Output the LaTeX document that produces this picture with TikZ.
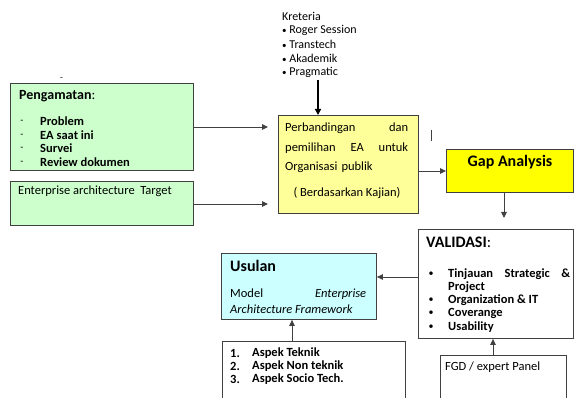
\documentclass[tikz,border=0pt]{standalone}
\usepackage{fontspec}
\setmainfont{Carlito}
\usetikzlibrary{arrows.meta}
\definecolor{lgreen}{RGB}{204,255,204}
\definecolor{lyellow}{RGB}{255,255,153}
\definecolor{gyellow}{RGB}{255,255,0}
\definecolor{lcyan}{RGB}{204,255,255}
\definecolor{edge}{RGB}{64,64,64}
\begin{document}
\begin{tikzpicture}[x=1pt,y=-1pt,
  box/.style={draw=edge, line width=0.9pt, inner sep=0pt, anchor=north west},
  txt/.style={inner sep=0pt, anchor=west, font=\fontsize{12.5}{14}\selectfont},
  btxt/.style={txt, font=\fontsize{12.5}{14}\selectfont\bfseries},
  bul/.style={inner sep=0pt, font=\fontsize{10}{12}\selectfont},
  arr/.style={draw=edge, line width=0.9pt, -{Triangle[length=6pt,width=5.5pt]}},
  thickarr/.style={draw=black, line width=1.6pt, -{Triangle[length=6pt,width=6pt]}}]
\useasboundingbox (0,0) rectangle (574,398);
% boxes
\node[box, fill=lgreen, minimum width=183pt, minimum height=87pt] (peng) at (10,83) {};
\node[box, fill=lgreen, minimum width=183pt, minimum height=44pt] (eat) at (10,181) {};
\node[box, fill=lyellow, minimum width=140pt, minimum height=98pt] (banding) at (278,115) {};
\node[box, fill=gyellow, minimum width=127pt, minimum height=43pt] (gap) at (446,149) {};
\node[box, fill=white, minimum width=155pt, minimum height=109pt] (valid) at (418,229) {};
\node[box, fill=lcyan, minimum width=155pt, minimum height=66pt] (usulan) at (221,253) {};
\node[box, fill=white, minimum width=183pt, minimum height=80pt] (aspek) at (222,341) {};
\node[box, fill=white, minimum width=126pt, minimum height=60pt] (fgd) at (440,355) {};
% anchors for connectors
\coordinate (kretend) at (318,80);
\coordinate (pengend) at (268,127);
\coordinate (eatend) at (268,204);
% connectors
\draw[thickarr] (kretend) -- (banding.north -| kretend);
\draw[arr] (peng.east |- pengend) -- (pengend);
\draw[arr] (eat.east |- eatend) -- (eatend);
\draw[arr] (banding.east |- 0,171) -- (gap.west |- 0,171);
\draw[arr] (504,0 |- gap.south) -- (504,218);
\draw[arr] (valid.west |- 0,277) -- (usulan.east |- 0,277);
\draw[arr] (aspek.north -| 292,0) -- (usulan.south -| 292,0);
\draw[arr] (fgd.north -| 493,0) -- (valid.south -| 493,0);
% stray marks
\node[txt, font=\fontsize{9}{10}\selectfont] (dashmark) at (60,79) {-};
\draw[edge, line width=0.8pt] (431,130) -- (431,141);
% Kreteria
\node[txt, font=\fontsize{12}{14}\selectfont] (k0) at (282,16) {Kreteria};
\node[txt, font=\fontsize{12}{14}\selectfont] (k1) at (282,30) {{\fontsize{9}{10}\selectfont•} Roger Session};
\node[txt, font=\fontsize{12}{14}\selectfont] (k2) at (282,44) {{\fontsize{9}{10}\selectfont•} Transtech};
\node[txt, font=\fontsize{12}{14}\selectfont] (k3) at (282,58) {{\fontsize{9}{10}\selectfont•} Akademik};
\node[txt, font=\fontsize{12}{14}\selectfont] (k4) at (282,72) {{\fontsize{9}{10}\selectfont•} Pragmatic};
% Pengamatan
\node[txt, font=\fontsize{14}{16}\selectfont] (pt) at (19,96) {\textbf{Pengamatan}:};
\foreach \y/\t [count=\i] in {121/Problem,135/EA saat ini,148/Survei,162/Review dokumen}{
  \node[bul] (pd\i) at (22,\y+1) {-};
  \node[btxt] (pl\i) at (40,\y) {\t};
}
\node[txt] (eatt) at (18,191) {Enterprise architecture\ \ Target};
% Perbandingan
\node[txt, text width=123pt] (b1) at (285,128) {Perbandingan\hfill dan};
\node[txt, text width=123pt] (b2) at (285,148) {pemilihan\hfill EA\hfill untuk};
\node[txt, text width=123pt] (b3) at (285,167) {Organisasi publik};
\node[txt, anchor=center] (b4) at (347,193) {( Berdasarkan Kajian)};
% Gap
\node[inner sep=0pt, font=\fontsize{16}{18}\selectfont\bfseries] (gapt) at (510,162) {Gap Analysis};
% VALIDASI
\node[txt, font=\fontsize{16}{18}\selectfont] (vt) at (426,242) {\textbf{VALIDASI}:};
\foreach \y [count=\i] in {274,300,313,327}{ \node[bul] (vb\i) at (431,\y) {•}; }
\node[btxt, text width=122pt] (v1) at (448,274) {Tinjauan\hfill Strategic\hfill \&};
\node[btxt] (v2) at (448,287) {Project};
\node[btxt] (v3) at (448,300) {Organization \& IT};
\node[btxt] (v4) at (448,313) {Coverange};
\node[btxt] (v5) at (448,327) {Usability};
% Usulan
\node[txt, font=\fontsize{16}{18}\selectfont\bfseries] (ut) at (230,266) {Usulan};
\node[txt, text width=136pt] (u1) at (230,294) {Model\hfill \textit{Enterprise}};
\node[txt] (u2) at (230,309) {\textit{Architecture Framework}};
% Aspek
\foreach \y/\t [count=\i] in {353/Aspek Teknik,366/Aspek Non teknik,379/Aspek Socio Tech.}{
  \node[btxt] (an\i) at (230,\y) {\i.};
  \node[btxt] (at\i) at (252,\y) {\t};
}
% FGD
\node[txt] (fgdt) at (445,367) {FGD / expert Panel};
\end{tikzpicture}
\end{document}
